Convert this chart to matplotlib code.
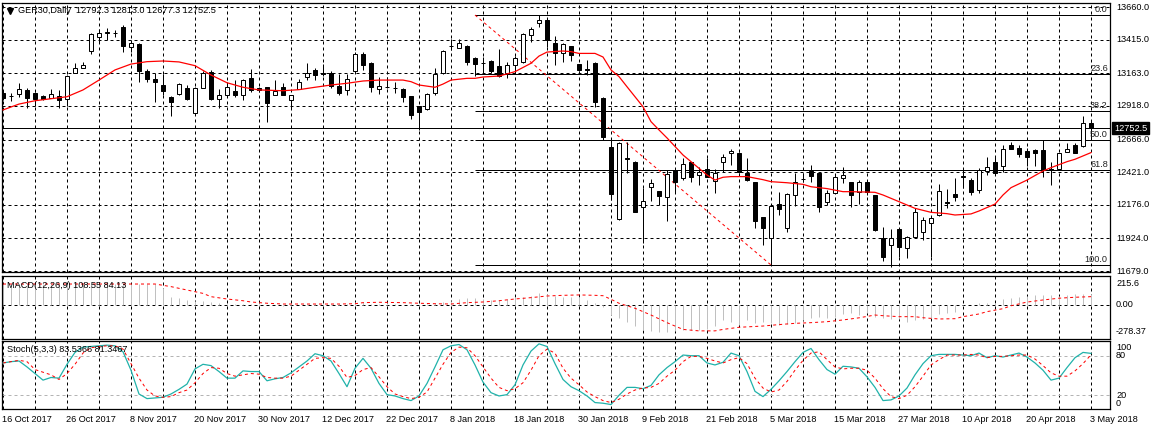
import matplotlib
matplotlib.use("Agg")
import matplotlib.pyplot as plt
from matplotlib.patches import Rectangle
from matplotlib.lines import Line2D
from matplotlib.transforms import blended_transform_factory as blend

plt.rcParams['font.family'] = ['Liberation Sans', 'DejaVu Sans']

# ---------------- data ----------------
opens = [13015,12992,13008,13038,13015,12992,12978,12992,12970,13165,
         13202,13330,13435,13465,13465,13510,13360,13382,13180,13120,
         13075,12985,13008,13052,12865,13052,13172,12970,13000,13030,
         13000,13128,13052,13060,13000,13060,12962,13045,13135,13188,
         13165,13165,13068,13038,13180,13308,13240,13045,13060,13052,
         13045,12992,12918,12895,13015,13165,13368,13352,13368,13278,
         13240,13255,13218,13165,13225,13248,13450,13540,13562,13390,
         13315,13368,13232,13195,13240,12978,12610,12070,12528,12498,
         12160,12310,12280,12235,12438,12378,12498,12400,12445,12355,
         12498,12565,12565,12415,12348,12085,11928,12182,12002,12250,
         12370,12430,12415,12198,12265,12378,12348,12272,12348,12250,
         11928,11875,11995,11852,11935,11972,12040,12100,12198,12258,
         12392,12362,12288,12430,12498,12468,12625,12602,12580,12588,
         12588,12445,12445,12572,12625,12618,12792.3]
highs = [13030,13015,13090,13052,13022,13000,13045,13038,13150,13240,
         13248,13465,13495,13502,13488,13525,13412,13390,13195,13165,
         13158,12992,13090,13075,13060,13180,13188,13045,13098,13112,
         13120,13195,13060,13060,13112,13090,13000,13120,13240,13202,
         13232,13180,13158,13158,13322,13322,13248,13135,13135,13098,
         13052,12992,12918,13015,13202,13338,13420,13420,13375,13285,
         13285,13262,13345,13248,13292,13465,13510,13600,13570,13442,
         13390,13368,13232,13262,13248,12985,12662,12648,12648,12505,
         12302,12370,12280,12438,12445,12528,12498,12460,12528,12445,
         12558,12595,12572,12528,12348,12085,12168,12272,12265,12415,
         12415,12475,12422,12288,12400,12460,12348,12362,12348,12250,
         12010,11995,12002,11942,12152,12085,12085,12332,12295,12378,
         12438,12378,12452,12535,12535,12625,12648,12625,12602,12595,
         12662,12498,12565,12640,12640,12842,12813.0]
lows = [12962,12955,12985,12902,12918,12962,12978,12902,12918,13165,
        13202,13308,13398,13412,13435,13322,13322,13098,13098,12948,
        13000,12842,13000,12962,12858,13052,12962,12902,12985,12985,
        12962,13022,13022,12798,13000,13000,12902,13045,13112,13112,
        13142,13052,13000,13000,13172,13188,13022,13008,13052,13015,
        12948,12820,12738,12888,13000,13158,13338,13352,13225,13142,
        13158,13165,13135,13128,13158,13240,13398,13510,13360,13225,
        13248,13255,13180,13150,12910,12662,12212,12062,12415,12122,
        11890,12205,12175,12055,12265,12362,12348,12325,12385,12265,
        12422,12475,12415,12355,12002,11875,11725,12100,11972,12168,
        12348,12348,12122,12175,12265,12340,12160,12182,12250,11980,
        11755,11710,11785,11778,11935,11912,11785,12092,12152,12205,
        12302,12250,12265,12400,12415,12422,12595,12535,12468,12468,
        12385,12325,12445,12572,12565,12610,12677.3]
closes = [12978,12990,13045,12978,12970,12970,13008,12962,13142,13202,
          13225,13458,13465,13472,13462,13368,13390,13180,13120,13098,
          13030,12948,13082,12970,13052,13165,12970,13000,13060,13000,
          13112,13038,13038,12940,13030,13000,13000,13098,13165,13150,
          13158,13068,13015,13120,13308,13225,13060,13068,13058,13050,
          12985,12850,12872,13008,13158,13330,13365,13390,13248,13232,
          13238,13180,13142,13225,13278,13458,13495,13562,13412,13315,
          13382,13300,13188,13190,12948,12688,12258,12640,12520,12122,
          12205,12340,12242,12408,12348,12482,12385,12422,12385,12415,
          12535,12580,12422,12362,12055,12002,12168,12145,12258,12348,
          12372,12392,12160,12265,12385,12400,12250,12348,12272,11988,
          11785,11928,11860,11935,12122,12062,12078,12280,12190,12235,
          12385,12272,12438,12460,12415,12595,12595,12558,12535,12565,
          12438,12440,12565,12595,12565,12790,12752.5]

# red moving average (bar index, value)
ma_idx = [0,2,4,6,8,10,12,14,16,18,20,22,24,26,28,30,32,35,37,39,41,43,45,47,
          50,51,52,54,55,56,58,59,60,62,64,66,67,68,70,71,72,74,75,76,77,78,
          80,81,82,83,85,87,88,89,90,91,93,95,96,98,100,101,103,105,106,108,
          109,110,112,114,116,118,119,121,122,124,125,126,128,130,131,133,134,136]
ma_val = [12888,12932,12957,12972,12987,13038,13112,13188,13232,13250,13255,13248,
          13220,13150,13092,13058,13038,13032,13040,13058,13075,13088,13105,13112,
          13112,13100,13075,13058,13082,13112,13125,13125,13135,13142,13175,13238,
          13292,13322,13330,13325,13312,13312,13285,13188,13138,13062,
          12912,12800,12738,12678,12550,12450,12400,12362,12383,12388,12388,12365,
          12350,12342,12330,12312,12298,12275,12275,12272,
          12270,12250,12200,12150,12120,12110,12100,12108,12130,12182,12250,12305,
          12362,12430,12455,12500,12518,12568]

price_ticks = [13660.0, 13415.0, 13163.0, 12918.0, 12666.0, 12421.0, 12176.0, 11924.0, 11679.0]
bid_price = 12752.5

fib_high, fib_low = 13600.0, 11725.0
fib_start, fib_end = 59, 96
fib_levels = [0.0, 23.6, 38.2, 50.0, 61.8, 100.0]

macd_hist = [215]*20 + [
    174,84,70,50,43,43,26,15,10,8,
    10,5,3,-5,-5,-8,-10,-5,5,10,
    12,8,3,8,25,25,12,10,10,8,
    2,5,0,8,18,30,35,57,67,67,
    60,50,50,57,77,84,91,119,112,91,
    84,84,84,50,15,-19,-105,-140,-175,-220,
    -260,-275,-278,-278,-275,-265,-260,-265,-250,-220,
    -157,-175,-209,-157,-192,-175,-192,-209,-199,-192,
    -157,-140,-123,-140,-123,-95,-88,-106,-88,-123,
    -140,-150,-150,-175,-157,-150,-140,-95,-88,-71,
    -12,1,15,15,22,57,67,84,91,101,
    101,101,91,101,112,112,108.55]
sig_idx = [0,19,21,23,25,26,28,30,31,33,35,42,44,45,47,50,52,54,56,58,60,62,64,66,68,
           70,72,74,75,76,77,79,81,83,85,87,89,90,92,95,97,99,101,103,105,107,109,
           110,112,114,115,117,119,120,122,123,125,126,128,130,132,134,136]
sig_val = [215,215,188,153,118,84,60,42,29,16,8,8,11,22,26,22,16,11,8,22,29,42,60,74,91,
           98,102,98,94,57,16,-36,-106,-185,-255,-270,-270,-255,-233,-220,-205,-192,-185,-175,-157,-135,-106,
           -113,-123,-123,-134,-147,-144,-123,-95,-71,-40,-10,28,50,68,78,84.13]

stoch_main = [69,71,72,63,53,43,47,46,67,85, 93,94,95,96,95,86,58,22,15,16,
              17,22,29,37,60,67,65,56,46,46, 57,56,56,42,45,47,54,63,72,83,
              80,72,53,33,61,76,61,38,21,19, 15,12,19,38,63,89,95,97,89,66,
              40,24,19,21,36,66,87,98,94,68, 44,33,27,19,9,8,6,20,32,32,
              30,35,51,62,71,81,80,80,69,66, 70,84,80,56,26,18,29,42,56,71,
              85,91,74,59,52,64,63,61,48,32, 12,13,19,31,51,68,80,82,82,82,
              81,80,84,77,80,78,81,84,78,69, 58,43,46,62,77,85,83.5366]
stoch_sig = [69,71,73,71,59,55,51,44,53,67, 84,92,94,95,95,90,68,46,28,19,
             17,18,24,28,39,53,62,61,53,49, 51,53,52,47,46,46,49,58,67,76,
             77,76,64,47,50,59,62,48,33,22, 18,15,17,25,46,67,85,93,92,80,
             63,46,32,27,30,39,58,80,90,84, 61,46,36,25,18,12,9,14,22,28,
             31,32,38,49,58,71,79,79,76,72, 69,74,77,68,46,31,25,28,41,58,
             73,84,86,74,63,60,61,61,58,46, 30,18,15,20,33,49,66,74,81,81,
             81,82,81,77,79,79,80,81,81,75, 65,54,49,49,57,68,81.3467]

date_labels = ['16 Oct 2017', '26 Oct 2017', '8 Nov 2017', '20 Nov 2017', '30 Nov 2017',
               '12 Dec 2017', '22 Dec 2017', '8 Jan 2018', '18 Jan 2018', '30 Jan 2018',
               '9 Feb 2018', '21 Feb 2018', '5 Mar 2018', '15 Mar 2018', '27 Mar 2018',
               '10 Apr 2018', '20 Apr 2018', '3 May 2018']
label_every = 8
grid_every = 4

title = 'GER30,Daily  12792.3 12813.0 12677.3 12752.5'
macd_title = 'MACD(12,26,9) 108.55 84.13'
stoch_title = 'Stoch(5,3,3) 83.5366 81.3467'
macd_labels = [215.6, 0.0, -278.37]
stoch_levels = [80, 20]

# ---------------- figure ----------------
W, H = 1152, 430
fig = plt.figure(figsize=(W / 100, H / 100), dpi=100)
fig.patch.set_facecolor('white')


def px_axes(x0, y0, x1, y1):
    return fig.add_axes([x0 / W, 1 - y1 / H, (x1 - x0) / W, (y1 - y0) / H])


ax = px_axes(2, 3, 1110, 272)
axm = px_axes(2, 276, 1110, 338.5)
axs = px_axes(2, 341, 1110, 408.5)

n = len(opens)
XL = (-0.125, 138.375)
LW = 0.72
DASH = (0, (3, 3))
FS = 6.6

for a in (ax, axm, axs):
    a.set_xlim(*XL)
    a.set_xticks([])
    a.set_yticks([])
    a.set_facecolor('white')
    for s in a.spines.values():
        s.set_color('black')
        s.set_linewidth(0.9)
    for g in range(0, n, grid_every):
        a.axvline(g, color='black', lw=LW, ls=DASH, zorder=0.5)

ax.set_ylim(11672.5, 13690)
axm.set_ylim(-349, 298)
axs.set_ylim(0, 102.3)

# main grid
for p in price_ticks:
    ax.axhline(p, color='black', lw=LW, ls=DASH, zorder=0.5)

# fibonacci
rng = fib_high - fib_low
for lvl in fib_levels:
    p = fib_high - rng * lvl / 100.0
    ax.hlines(p, fib_start, XL[1], color='black', lw=LW, zorder=1)
    ax.annotate(f'{lvl:.1f}', xy=(138.1, p), xytext=(0, 0.5), textcoords='offset points',
                ha='right', va='bottom', fontsize=FS, color='#222222', zorder=6)
ax.plot([fib_start, fib_end], [fib_high, fib_low], color='red', lw=LW, ls=DASH, zorder=1)

# bid line
ax.axhline(bid_price, color='black', lw=LW, zorder=1)

# candles
for i in range(n):
    o, h, l, c = opens[i], highs[i], lows[i], closes[i]
    ax.vlines(i, l, h, color='black', lw=LW, zorder=3)
    lo, hi = min(o, c), max(o, c)
    ax.add_patch(Rectangle((i - 0.28, lo), 0.56, hi - lo,
                           facecolor='white' if c > o else 'black',
                           edgecolor='black', lw=LW, zorder=4))

ax.plot(ma_idx, ma_val, color='red', lw=0.9, zorder=5)

# right price labels
tr = blend(ax.transAxes, ax.transData)
for p in price_ticks:
    ax.text(1 + 6 / 1108, p, f'{p:.1f}', transform=tr, ha='left', va='center',
            fontsize=FS, clip_on=False)
ax.text(1 + 4 / 1108, bid_price, f'{bid_price:.1f}', transform=tr, ha='left', va='center',
        fontsize=FS, color='white', clip_on=False, zorder=10,
        bbox=dict(boxstyle='square,pad=0.2', fc='black', ec='black'))

# MACD panel
axm.vlines(range(n), 0, macd_hist, color='#C0C0C0', lw=LW, zorder=2)
axm.axhline(0, color='black', lw=LW, ls=DASH, zorder=1)
axm.plot(sig_idx, sig_val, color='red', lw=LW, ls=DASH, zorder=3)
trm = blend(axm.transAxes, axm.transData)
for v in macd_labels:
    axm.text(1 + 6 / 1108, v, f'{v:.2f}' if v != 215.6 else '215.6', transform=trm,
             ha='left', va='center', fontsize=FS, clip_on=False)

# Stoch panel
for lv in stoch_levels:
    axs.axhline(lv, color='#B4B4B4', lw=LW, ls=DASH, zorder=1)
axs.plot(range(n), stoch_main, color='#20B2AA', lw=0.9, zorder=3)
axs.plot(range(n), stoch_sig, color='red', lw=LW, ls=DASH, zorder=3)
trs = blend(axs.transAxes, axs.transData)
for v, off in [(100, -5.0), (80, 0), (20, 0), (0, 5.5)]:
    axs.annotate(str(v), xy=(1 + 6 / 1108, v), xycoords=trs, xytext=(0, off),
                 textcoords='offset pixels', ha='left', va='center', fontsize=FS,
                 annotation_clip=False)

# date labels
for k, lab in enumerate(date_labels):
    axs.annotate(lab, xy=(k * label_every, 0), xycoords=('data', 'axes fraction'),
                 xytext=(-1, -10.5), textcoords='offset pixels', ha='left', va='center',
                 fontsize=FS, annotation_clip=False)

# titles
fig.text(18 / W, 1 - 10.5 / H, title, ha='left', va='center', fontsize=FS)
fig.add_artist(Line2D([9.5 / W], [1 - 10.5 / H], marker='v', ms=4.5, color='black',
                      transform=fig.transFigure))
fig.text(7 / W, 1 - 285 / H, macd_title, ha='left', va='center', fontsize=FS)
fig.text(7 / W, 1 - 350 / H, stoch_title, ha='left', va='center', fontsize=FS)

fig.savefig('out.png', dpi=100, facecolor='white')
